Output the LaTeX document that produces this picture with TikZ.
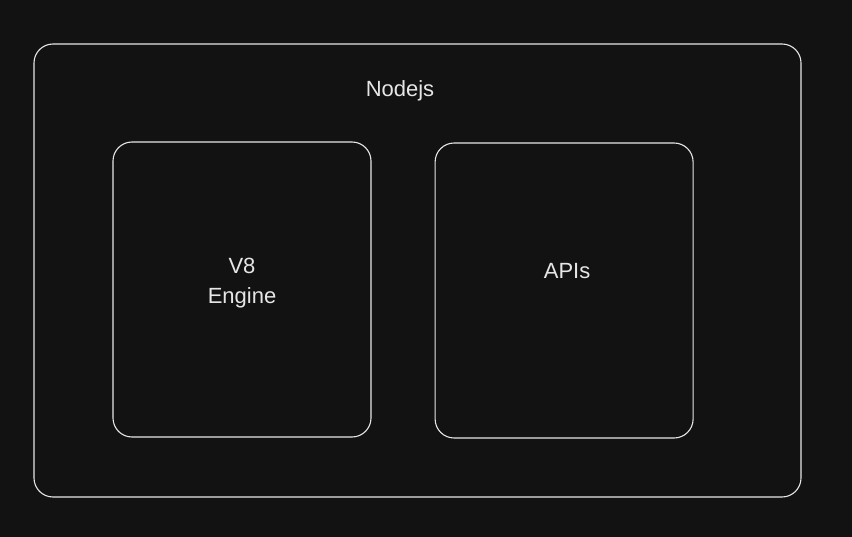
\documentclass[tikz,border=0pt]{standalone}
\usepackage{fontspec}
\setmainfont{Liberation Sans}
\usetikzlibrary{positioning}

\definecolor{canvas}{HTML}{121212}
\definecolor{ink}{HTML}{E6E6E6}

\begin{document}
\begin{tikzpicture}[x=1pt, y=-1pt,
	box/.style = {draw=ink, line width=1.1pt, rounded corners=19pt, inner sep=0pt},
	tag/.style = {text=ink, font=\fontsize{22}{30}\selectfont, align=center}
	]
	\fill[canvas] (0,0) rectangle (852,537);
	\useasboundingbox (0,0) rectangle (852,537);

	\node[box, minimum width=767pt, minimum height=453pt] (node) at (417.5,270.5) {};
	\node[box, minimum width=258pt, minimum height=295pt] (engine) at (242,289.5) {};
	\node[box, minimum width=258pt, minimum height=295pt, right=63pt of engine.east, anchor=west, yshift=-1pt] (apis) {};

	\node[tag] (nodelabel) at (400,91) {Nodejs};
	\node[tag] (enginelabel) at ([yshift=6pt]engine.center) {V8\\Engine};
	\node[tag] (apislabel) at ([xshift=3pt,yshift=19pt]apis.center) {APIs};
\end{tikzpicture}
\end{document}
